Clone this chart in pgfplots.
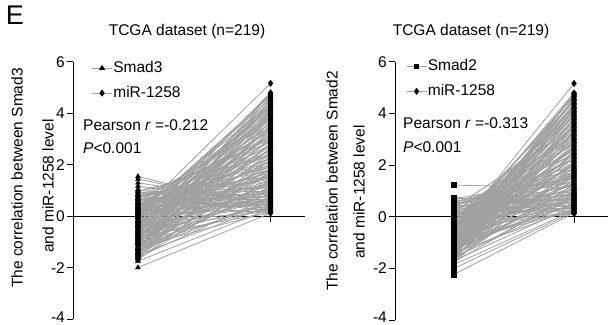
\documentclass[border=0pt]{standalone}
\usepackage{pgfplots}
\pgfplotsset{compat=1.18}
\usepackage{pgfplotstable}
\usepackage{fontspec}
\setmainfont{Liberation Sans}
\definecolor{lngray}{RGB}{160,160,160}

\pgfplotstableread{
mir s3 s2
0.12 -2.00 -0.40
0.15 0.35 -2.23
0.18 -1.20 0.60
0.20 0.80 -2.00
0.22 -0.55 0.20
0.25 1.55 -1.85
0.27 0.10 -0.90
0.30 -1.75 0.45
0.32 0.60 -1.40
0.35 1.45 0.10
0.38 -0.30 -0.60
0.40 0.95 0.75
0.43 -1.50 -1.70
0.45 0.25 0.30
0.48 1.30 -0.20
0.50 -0.90 -1.10
0.53 0.45 0.55
0.56 -0.10 -1.55
0.58 1.17 0.05
0.61 -1.35 -0.80
0.64 0.70 0.65
0.67 -0.70 -0.35
0.70 0.05 -1.25
0.73 1.00 0.40
0.76 -1.60 -0.05
0.79 0.30 -1.60
0.82 -0.45 0.70
0.85 0.85 -0.95
0.88 -1.05 0.25
0.91 0.50 -1.75
0.94 -0.20 -0.15
0.97 0.90 0.50
1.00 -1.25 -1.30
1.04 0.15 0.15
1.08 -0.60 -0.70
1.12 0.65 1.23
1.16 -1.45 -0.50
1.20 0.40 0.35
1.24 -0.80 -1.45
1.28 0.20 0.00
1.32 1.05 -1.00
1.36 -1.10 0.60
1.40 -0.25 -0.25
1.44 0.55 -1.65
1.48 -1.65 0.20
1.52 0.00 -0.85
1.56 0.75 0.45
1.60 -0.95 -1.20
1.64 -0.35 -0.10
1.68 0.35 -1.50
1.72 -1.30 0.30
1.76 0.80 -0.60
1.80 -0.65 -1.35
1.84 -0.05 0.10
1.88 -1.55 -0.75
1.92 0.45 -1.70
1.96 -0.85 0.55
2.00 0.10 -0.40
2.05 -1.20 -1.05
2.10 0.60 -0.20
2.15 -0.40 -1.55
2.20 -1.70 0.15
2.25 0.25 -0.90
2.30 -0.75 -0.30
2.35 0.95 -1.40
2.40 -1.00 0.40
2.45 -0.15 -1.15
2.50 -1.40 -0.55
2.55 0.30 -1.80
2.60 -0.50 0.00
2.65 -1.15 -0.95
2.70 0.50 -0.45
2.75 -0.90 -1.30
2.80 -0.05 0.25
2.85 -1.60 -1.60
2.90 0.15 -0.65
2.95 -0.60 -1.10
3.00 0.70 -0.15
3.05 -1.30 -1.45
3.10 -0.30 -0.80
3.15 0.20 0.20
3.20 -1.05 -1.25
3.25 -0.45 -0.50
3.30 0.40 -1.65
3.35 -1.50 -0.25
3.40 -0.20 -1.00
3.45 -0.80 0.35
3.50 0.05 -1.35
3.55 -1.25 -0.70
3.60 0.55 -1.50
3.65 -0.55 -0.05
3.70 -1.65 -1.20
3.75 -0.10 -0.85
3.80 -0.95 -1.70
3.85 0.25 -0.35
3.90 -1.35 -1.05
3.95 -0.35 -0.60
4.00 0.35 -1.40
4.05 -1.10 -0.15
4.10 -0.65 -1.15
4.15 0.00 -0.90
4.20 -1.45 -1.55
4.25 -0.25 -0.45
4.30 -0.85 -1.25
4.35 0.15 -0.75
4.40 -1.55 -1.60
4.45 -0.40 -0.30
4.50 -1.00 -1.10
4.55 0.10 -0.80
4.60 -0.70 -1.45
4.65 -1.25 -0.55
4.70 -0.15 -1.00
4.75 -0.90 -1.30
4.80 -0.50 -0.65
5.17 0.12 -0.60
0.14 -0.80 -0.20
0.24 -0.35 -1.00
0.33 -1.00 0.15
0.42 0.65 -0.50
0.52 -1.20 -1.20
0.60 0.20 -0.30
0.69 -0.25 0.35
0.78 0.55 -1.10
0.87 -0.85 -0.45
0.96 0.30 -0.85
1.06 -0.40 0.05
1.14 0.85 -1.50
1.26 -0.15 -0.40
1.38 -1.40 -0.90
1.50 0.45 0.70
1.62 -0.55 -0.30
1.74 0.10 -1.25
1.86 -1.00 0.45
1.98 0.70 -0.65
2.12 -0.20 -1.30
2.28 -1.45 0.05
2.42 0.40 -0.85
2.58 -0.80 -0.20
2.72 -0.30 -1.20
2.88 0.80 -0.50
3.02 -1.05 -0.90
3.18 -0.60 -0.35
3.32 0.10 -1.15
3.48 -1.20 -0.60
3.62 -0.40 -1.45
3.78 0.30 -0.95
3.92 -0.75 -0.40
4.08 -1.50 -1.05
4.22 -0.05 -0.70
4.38 -0.60 -1.35
4.52 -1.30 -0.95
4.68 0.05 -0.50
4.78 -0.30 -1.15
}\data

\pgfplotsset{
  pairaxis/.style={
    scale only axis,
    axis x line*=middle, axis y line*=left,
    ymin=-4, ymax=6,
    ytick={-4,-2,0,2,4,6}, yticklabels={\raisebox{3bp}{-4},-2,0,2,4,6},
    xtick={1,2}, xticklabels={},
    hide obscured x ticks=false, hide obscured y ticks=false,
    tick align=outside, major tick length=6bp,
    axis line style={line width=1bp, black},
    tick style={line width=1bp, black},
    yticklabel style={inner xsep=2bp, inner ysep=0pt},
    clip=false,
    legend cell align=left,
    legend image code/.code={\draw[mark repeat=2,mark phase=2,line width=0.6bp,##1] plot coordinates {(0bp,0bp) (10bp,0bp) (20bp,0bp)};},
    legend style={draw=none, fill=none, inner sep=0pt, row sep=9bp,
      nodes={inner sep=1bp, text height=11bp, text depth=3bp, anchor=west}},
  },
  pairline/.style={color=lngray, line width=0.8bp, forget plot},
}

\begin{document}
\begin{tikzpicture}[font=\fontsize{15.5bp}{18bp}\selectfont]
\path[use as bounding box] (0,0) rectangle (609bp,-325bp);

% ---------- left panel ----------
\begin{axis}[pairaxis,
  at={(73bp,-319bp)}, anchor=south west,
  width=232bp, height=257bp,
  xmin=0.51, xmax=2.26,
  legend style={at={(0.08,1.008)}, anchor=north west}]
\addlegendimage{color=lngray, mark=triangle*, mark size=2.8bp, mark options={black, fill=black}}
\addlegendentry{Smad3}
\addlegendimage{color=lngray, mark=diamond*, mark size=3bp, mark options={black, fill=black}}
\addlegendentry{miR-1258}
\addplot[pairline, quiver={u=1, v=\thisrow{mir}-\thisrow{s3}}] table[x expr=1, y=s3] {\data};
\addplot[only marks, mark=triangle*, mark size=2.8bp, black, forget plot] table[x expr=1, y=s3] {\data};
\addplot[only marks, mark=diamond*, mark size=3.2bp, black, forget plot] table[x expr=2, y=mir] {\data};
\end{axis}

% ---------- right panel ----------
\begin{axis}[pairaxis,
  at={(395bp,-320bp)}, anchor=south west,
  width=213bp, height=258bp,
  xmin=0.508, xmax=2.283,
  yticklabels={\raisebox{5bp}{-4},-2,0,2,4,6},
  legend style={at={(0.052,1.015)}, anchor=north west}]
\addlegendimage{color=lngray, mark=square*, mark size=2.2bp, mark options={black, fill=black}}
\addlegendentry{Smad2}
\addlegendimage{color=lngray, mark=diamond*, mark size=3bp, mark options={black, fill=black}}
\addlegendentry{miR-1258}
\addplot[pairline, quiver={u=1, v=\thisrow{mir}-\thisrow{s2}}] table[x expr=1, y=s2] {\data};
\addplot[only marks, mark=square*, mark size=2.4bp, black, forget plot] table[x expr=1, y=s2] {\data};
\addplot[only marks, mark=diamond*, mark size=3.2bp, black, forget plot] table[x expr=2, y=mir] {\data};
\end{axis}

% ---------- texts ----------
\node[font=\fontsize{27bp}{29bp}\selectfont] at (15bp,-15bp) {E};
\node at (187bp,-31bp) {TCGA dataset (n=219)};
\node at (471bp,-31bp) {TCGA dataset (n=219)};
\node[rotate=90] at (17bp,-178bp) {The correlation between Smad3};
\node[rotate=90] at (48bp,-186bp) {and miR-1258 level};
\node[rotate=90] at (332bp,-181bp) {The correlation between Smad2};
\node[rotate=90] at (359bp,-192bp) {and miR-1258 level};
\node[anchor=base west, inner sep=0pt] at (83bp,-130bp) {Pearson \textit{r} =-0.212};
\node[anchor=base west, inner sep=0pt] at (83bp,-153bp) {\textit{P}<0.001};
\node[anchor=base west, inner sep=0pt] at (403bp,-128bp) {Pearson \textit{r} =-0.313};
\node[anchor=base west, inner sep=0pt] at (403bp,-152bp) {\textit{P}<0.001};
\end{tikzpicture}
\end{document}
